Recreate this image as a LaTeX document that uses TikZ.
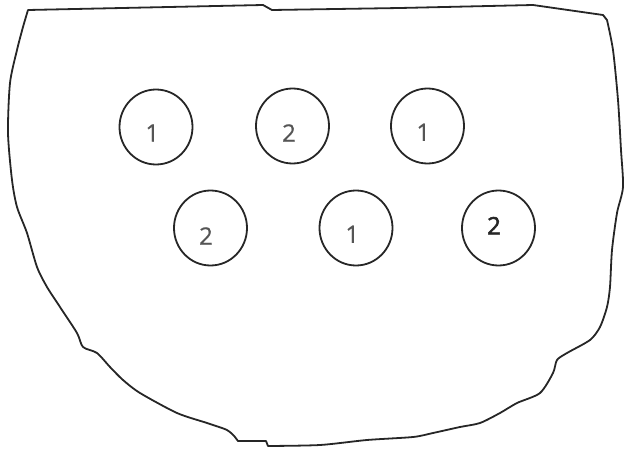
\documentclass[tikz,border=0pt]{standalone}
\usepackage{fontspec}
\setmainfont{Open Sans}
\newfontfamily\semibold[FakeBold=2.5]{Open Sans}
\newfontfamily\numfont[FakeBold=0.6]{Open Sans}
\usetikzlibrary{shapes.geometric}
\definecolor{ink}{HTML}{262626}
\definecolor{numgray}{HTML}{555555}
\tikzset{
  outline/.style={draw=ink, line width=1.8pt, line join=round, line cap=round},
  well/.style={ellipse, draw=ink, line width=1.8pt, minimum width=73pt, minimum height=75pt, inner sep=0pt},
  num/.style={inner sep=0pt, font=\fontsize{24}{24}\numfont, text=numgray},
  numbold/.style={inner sep=0pt, font=\fontsize{24}{24}\semibold, text=ink}
}
\begin{document}
\begin{tikzpicture}[x=1pt, y=-1pt]
\useasboundingbox (0,0) rectangle (625,450);
% hand-drawn outline
\draw[outline] (28,10) -- (263,5) -- (272,10) -- (400,8) -- (533,5) -- (603,15)
  -- plot[smooth, tension=0.45] coordinates {
   (607,20) (613,50) (618,100) (621,150) (623,187) (617,213) (612,250)
   (610,287) (607,307) (600,327) (590,340) (567,353) (557,360) (553,373)
   (540,393) (517,403) (500,413) (480,423) (460,427) (433,433) (413,437)
   (367,440) (320,445) (268,446)}
  -- (266,441) -- (238,441)
  -- plot[smooth, tension=0.45] coordinates {
   (235,437) (227,430) (207,423) (177,413) (140,393) (123,380) (110,367)
   (97,353) (83,347) (77,333) (60,307) (47,287) (37,267) (27,233) (17,207)
   (12,180) (8,133) (10,83) (17,50) (23,27) (28,10)};
% wells
\node[well] (c1) at (156,127) {};
\node[well] (c2) at (292.5,126) {};
\node[well] (c3) at (427.5,126) {};
\node[well] (c4) at (210.5,228) {};
\node[well] (c5) at (356,228) {};
\node[well] (c6) at (498.5,228) {};
% labels
\node[num] (l1) at (152.3,133) {1};
\node[num] (l2) at (289,133) {2};
\node[num] (l3) at (423.3,132.3) {1};
\node[num] (l4) at (206,236) {2};
\node[num] (l5) at (352.3,234.3) {1};
\node[numbold] (l6) at (494,225.7) {2};
\end{tikzpicture}
\end{document}
